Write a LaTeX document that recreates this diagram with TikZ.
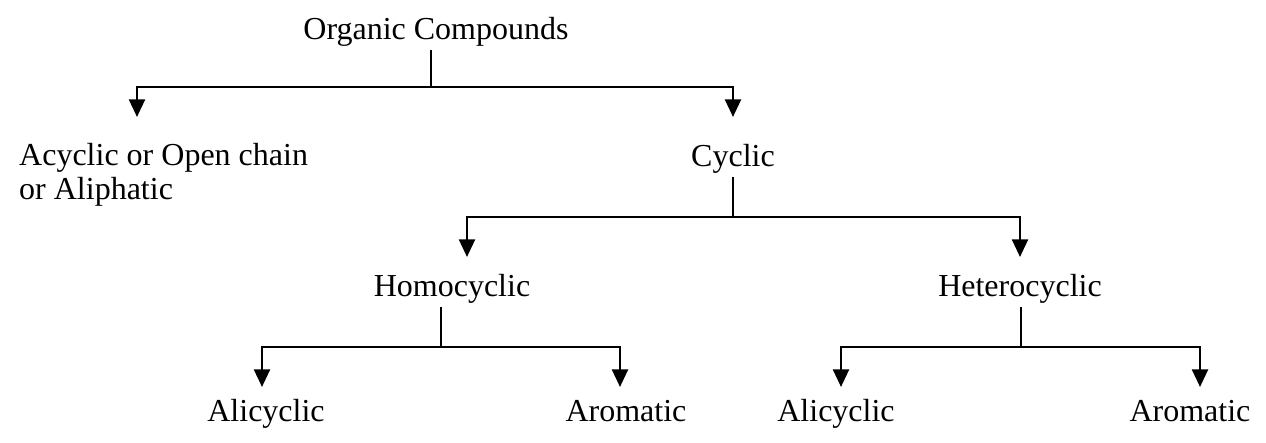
\documentclass[tikz,border=0pt]{standalone}
\usepackage{fontspec}
\setmainfont{Liberation Serif}
\usetikzlibrary{arrows.meta}
\begin{document}
\begin{tikzpicture}[x=0.01cm,y=-0.01cm]
	\tikzset{label/.style={font=\fontsize{9.1}{9.4}\selectfont, inner sep=1pt, anchor=base},
	link/.style={line width=0.75pt},
	arr/.style={line width=0.75pt, -{Triangle[length=5pt,width=4.5pt]}}}
\useasboundingbox (0,0) rectangle (1266,442);
\node [label] (org) at (436,39) {Organic Compounds};
\node [label, anchor=base west, align=left] (acy) at (15,199) {Acyclic or Open chain\\or Aliphatic};
\node [label] (cyc) at (733,166) {Cyclic};
\node [label] (homo) at (452,296) {Homocyclic};
\node [label] (hetero) at (1020,296) {Heterocyclic};
\node [label] (ali1) at (266,421) {Alicyclic};
\node [label] (aro1) at (626,421) {Aromatic};
\node [label] (ali2) at (836,421) {Alicyclic};
\node [label] (aro2) at (1190,421) {Aromatic};
% branch points and arrow ends
\coordinate (j1) at (431,87);
\coordinate (j2) at (733,217);
\coordinate (j3) at (441,347);
\coordinate (j4) at (1021,347);
\coordinate (acyin) at (137,117);
\coordinate (cycin) at (733,117);
\coordinate (homoin) at (467,257);
\coordinate (heteroin) at (1020,257);
\coordinate (ali1in) at (262,387);
\coordinate (aro1in) at (620,387);
\coordinate (ali2in) at (841,387);
\coordinate (aro2in) at (1200,387);
\draw [link] (org.south -| j1) -- (j1);
\draw [arr] (j1) -| (acyin);
\draw [arr] (j1) -| (cycin);
\draw [link] (cyc.south) -- (j2);
\draw [arr] (j2) -| (homoin);
\draw [arr] (j2) -| (heteroin);
\draw [link] (homo.south -| j3) -- (j3);
\draw [arr] (j3) -| (ali1in);
\draw [arr] (j3) -| (aro1in);
\draw [link] (hetero.south -| j4) -- (j4);
\draw [arr] (j4) -| (ali2in);
\draw [arr] (j4) -| (aro2in);
\end{tikzpicture}
\end{document}
